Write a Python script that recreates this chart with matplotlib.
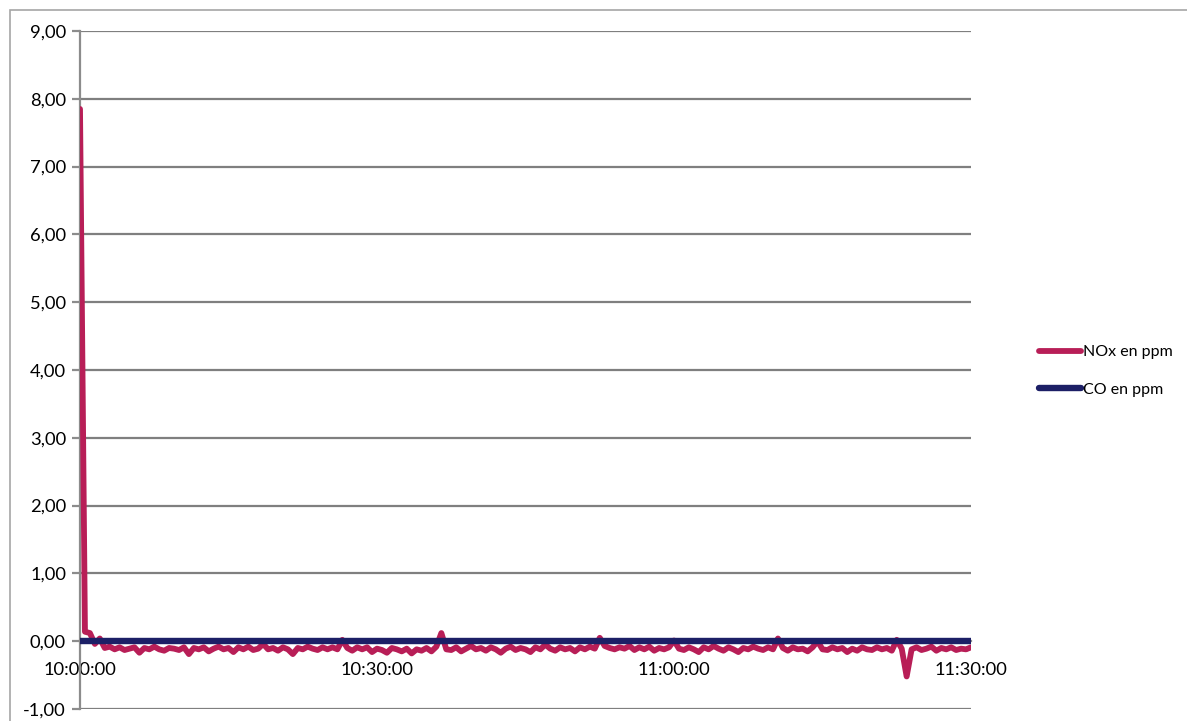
import numpy as np
import pandas as pd
import matplotlib
matplotlib.use("Agg")
import matplotlib.pyplot as plt
from matplotlib.patches import Rectangle
from matplotlib.ticker import FuncFormatter, MultipleLocator

plt.rcParams['font.family'] = ['Lato', 'DejaVu Sans']

start_time = "2020-01-01 10:00:00"
end_time = "2020-01-01 11:30:00"
sample_step = "30s"

nox_ppm = [
    7.85, 0.14, 0.12, -0.04, 0.04, -0.10, -0.08, -0.12, -0.09, -0.13,
    -0.11, -0.09, -0.17, -0.10, -0.12, -0.08, -0.12, -0.14, -0.10, -0.11,
    -0.13, -0.09, -0.19, -0.10, -0.12, -0.09, -0.15, -0.11, -0.08, -0.12,
    -0.10, -0.16, -0.09, -0.12, -0.08, -0.13, -0.11, -0.04, -0.12, -0.10,
    -0.14, -0.09, -0.12, -0.19, -0.10, -0.12, -0.08, -0.11, -0.13, -0.09,
    -0.12, -0.09, -0.12, 0.02, -0.10, -0.14, -0.09, -0.12, -0.09, -0.16,
    -0.11, -0.13, -0.17, -0.10, -0.12, -0.15, -0.11, -0.18, -0.12, -0.14,
    -0.10, -0.15, -0.08, 0.12, -0.12, -0.13, -0.09, -0.15, -0.11, -0.07,
    -0.12, -0.10, -0.14, -0.09, -0.12, -0.17, -0.11, -0.08, -0.13, -0.10,
    -0.12, -0.16, -0.09, -0.12, -0.05, -0.11, -0.14, -0.09, -0.12, -0.10,
    -0.15, -0.09, -0.12, -0.08, -0.11, 0.05, -0.07, -0.10, -0.12, -0.09,
    -0.11, -0.07, -0.13, -0.09, -0.12, -0.08, -0.14, -0.10, -0.12, -0.09,
    0.01, -0.11, -0.13, -0.09, -0.12, -0.16, -0.09, -0.12, -0.07, -0.11,
    -0.14, -0.09, -0.12, -0.16, -0.10, -0.12, -0.08, -0.11, -0.13, -0.09,
    -0.12, 0.04, -0.10, -0.14, -0.09, -0.12, -0.11, -0.15, -0.09, 0.00,
    -0.12, -0.13, -0.09, -0.12, -0.10, -0.16, -0.11, -0.14, -0.09, -0.12,
    -0.13, -0.09, -0.12, -0.10, -0.14, 0.02, -0.11, -0.52, -0.12, -0.09,
    -0.13, -0.11, -0.08, -0.14, -0.10, -0.12, -0.09, -0.13, -0.11, -0.12,
    -0.09,
]
co_ppm = [0.0] * len(nox_ppm)

series_labels = ["NOx en ppm", "CO en ppm"]
series_colors = ["#B81E57", "#1C1F66"]
x_tick_labels = ["10:00:00", "10:30:00", "11:00:00", "11:30:00"]
y_min, y_max, y_step = -1, 9, 1

times = pd.date_range(start=start_time, periods=len(nox_ppm), freq=sample_step)

W, H = 1187, 721
fig = plt.figure(figsize=(W / 100, H / 100), dpi=100)
fig.patch.set_facecolor("white")

# chart area border
fig.patches.append(Rectangle((10 / W, -0.1), 1.2, 1 - 10 / H + 0.1,
                             transform=fig.transFigure, fill=False,
                             edgecolor="#A6A6A6", linewidth=1.2))

ax = fig.add_axes([80 / W, 1 - 709 / H, (971 - 80) / W, (709 - 31) / H])
ax.set_facecolor("none")

l1, = ax.plot(times, nox_ppm, color=series_colors[0], lw=4.2,
              solid_capstyle="round", solid_joinstyle="round",
              label=series_labels[0], zorder=3)
l2, = ax.plot(times, co_ppm, color=series_colors[1], lw=4.6,
              solid_capstyle="round", label=series_labels[1], zorder=4)

ax.set_ylim(y_min, y_max)
ax.set_xlim(pd.Timestamp(start_time), pd.Timestamp(end_time))
ax.yaxis.set_major_locator(MultipleLocator(y_step))
ax.yaxis.set_major_formatter(FuncFormatter(lambda v, p: f"{v:.2f}".replace(".", ",")))
ax.grid(axis="y", color="#7F7F7F", linewidth=1.6, zorder=0)
ax.set_axisbelow(True)

tick_times = pd.date_range(start=start_time, end=end_time, freq="30min")
ax.set_xticks(tick_times)
ax.set_xticklabels(x_tick_labels)

for s in ["top", "right"]:
    ax.spines[s].set_visible(False)
ax.spines["left"].set_color("#8C8C8C")
ax.spines["left"].set_linewidth(1.6)
ax.spines["bottom"].set_position(("data", 0))
ax.spines["bottom"].set_color("#8C8C8C")
ax.spines["bottom"].set_linewidth(1.6)

ax.tick_params(axis="y", length=6, width=1.6, color="#8C8C8C", labelsize=13.2,
               labelcolor="black", pad=4)
ax.tick_params(axis="x", length=0, labelsize=13.2, labelcolor="black", pad=15)

fig.legend(handles=[l1, l2], labels=series_labels,
           loc="center left", bbox_to_anchor=(1033 / W, 1 - 371 / H),
           frameon=False, fontsize=11.5, handlelength=2.6, handletextpad=0.15,
           labelspacing=1.45, borderaxespad=0)

fig.savefig("out.png", dpi=100, facecolor="white")
